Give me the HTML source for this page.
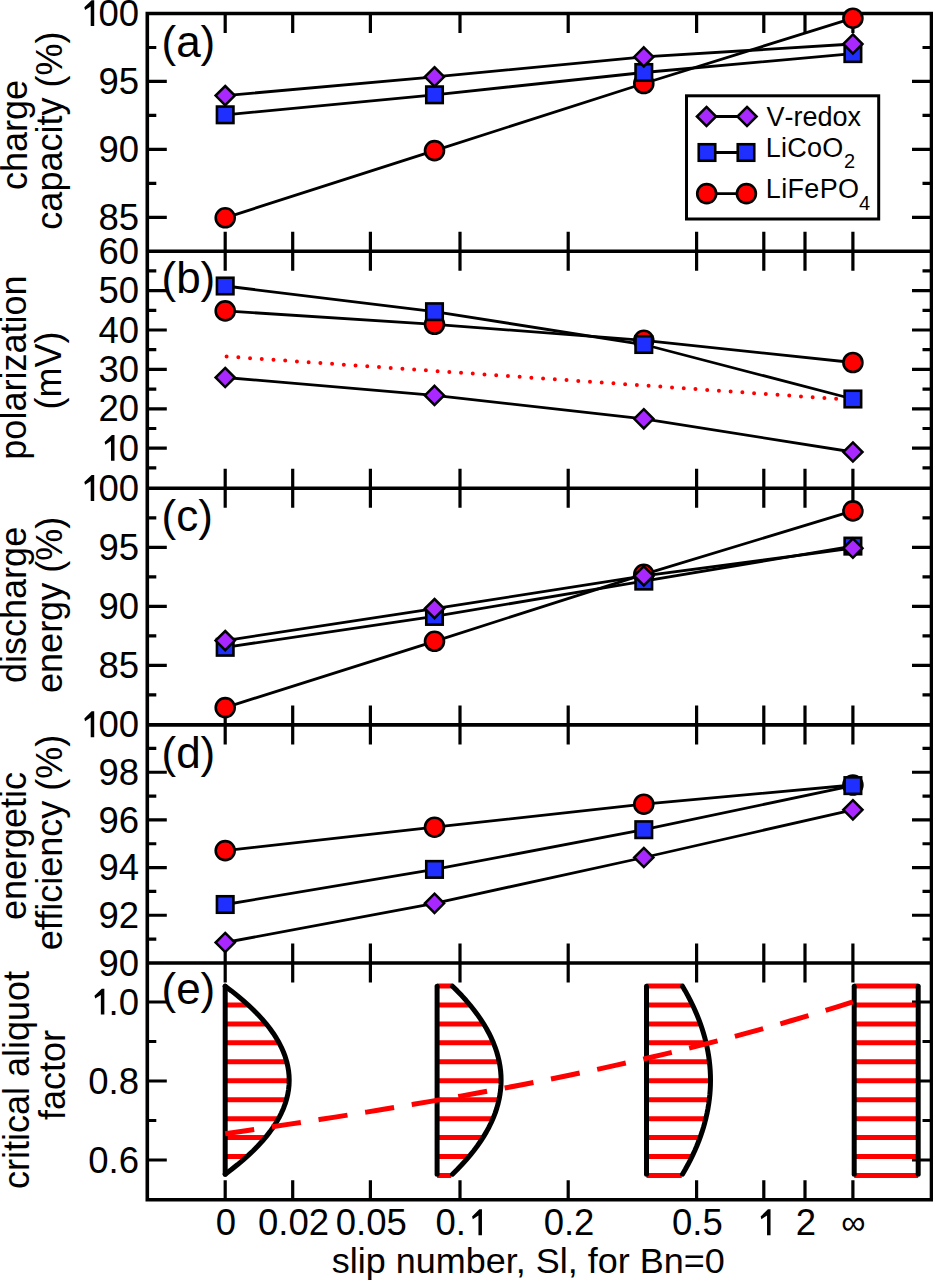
<!DOCTYPE html><html><head><meta charset="utf-8"><style>html,body{margin:0;padding:0;background:#fff;width:933px;height:1280px;overflow:hidden;position:relative}</style></head><body><div style="position:absolute;left:0;top:0;width:933px;height:1280px"><svg width="933" height="1280" viewBox="0 0 933 1280" style="position:absolute;left:0;top:0">
<rect width="933" height="1280" fill="#fff"/>
<path d="M225.2 13.5v19.5M225.2 251.2v-19.5M292.7 13.5v19.5M292.7 251.2v-19.5M370.4 13.5v19.5M370.4 251.2v-19.5M460.0 13.5v19.5M460.0 251.2v-19.5M568.2 13.5v19.5M568.2 251.2v-19.5M696.6 13.5v19.5M696.6 251.2v-19.5M763.8 13.5v19.5M763.8 251.2v-19.5M805.0 13.5v19.5M805.0 251.2v-19.5M852.9 13.5v19.5M852.9 251.2v-19.5M147.3 81.45h19.5M931.5 81.45h-19.5M147.3 149.4h19.5M931.5 149.4h-19.5M147.3 217.35h19.5M931.5 217.35h-19.5M147.3 47.48h9.0M931.5 47.48h-9.0M147.3 115.42h9.0M931.5 115.42h-9.0M147.3 183.38h9.0M931.5 183.38h-9.0M225.2 251.2v19.5M225.2 488.3v-19.5M292.7 251.2v19.5M292.7 488.3v-19.5M370.4 251.2v19.5M370.4 488.3v-19.5M460.0 251.2v19.5M460.0 488.3v-19.5M568.2 251.2v19.5M568.2 488.3v-19.5M696.6 251.2v19.5M696.6 488.3v-19.5M763.8 251.2v19.5M763.8 488.3v-19.5M805.0 251.2v19.5M805.0 488.3v-19.5M852.9 251.2v19.5M852.9 488.3v-19.5M147.3 290.6h19.5M931.5 290.6h-19.5M147.3 330.0h19.5M931.5 330.0h-19.5M147.3 369.4h19.5M931.5 369.4h-19.5M147.3 408.8h19.5M931.5 408.8h-19.5M147.3 448.2h19.5M931.5 448.2h-19.5M147.3 270.9h9.0M931.5 270.9h-9.0M147.3 310.3h9.0M931.5 310.3h-9.0M147.3 349.7h9.0M931.5 349.7h-9.0M147.3 389.1h9.0M931.5 389.1h-9.0M147.3 428.5h9.0M931.5 428.5h-9.0M147.3 467.9h9.0M931.5 467.9h-9.0M225.2 488.3v19.5M225.2 724.9v-19.5M292.7 488.3v19.5M292.7 724.9v-19.5M370.4 488.3v19.5M370.4 724.9v-19.5M460.0 488.3v19.5M460.0 724.9v-19.5M568.2 488.3v19.5M568.2 724.9v-19.5M696.6 488.3v19.5M696.6 724.9v-19.5M763.8 488.3v19.5M763.8 724.9v-19.5M805.0 488.3v19.5M805.0 724.9v-19.5M852.9 488.3v19.5M852.9 724.9v-19.5M147.3 547.3h19.5M931.5 547.3h-19.5M147.3 606.3h19.5M931.5 606.3h-19.5M147.3 665.3h19.5M931.5 665.3h-19.5M147.3 517.8h9.0M931.5 517.8h-9.0M147.3 576.8h9.0M931.5 576.8h-9.0M147.3 635.8h9.0M931.5 635.8h-9.0M147.3 694.8h9.0M931.5 694.8h-9.0M225.2 724.9v19.5M225.2 963.0v-19.5M292.7 724.9v19.5M292.7 963.0v-19.5M370.4 724.9v19.5M370.4 963.0v-19.5M460.0 724.9v19.5M460.0 963.0v-19.5M568.2 724.9v19.5M568.2 963.0v-19.5M696.6 724.9v19.5M696.6 963.0v-19.5M763.8 724.9v19.5M763.8 963.0v-19.5M805.0 724.9v19.5M805.0 963.0v-19.5M852.9 724.9v19.5M852.9 963.0v-19.5M147.3 772.26h19.5M931.5 772.26h-19.5M147.3 819.92h19.5M931.5 819.92h-19.5M147.3 867.58h19.5M931.5 867.58h-19.5M147.3 915.24h19.5M931.5 915.24h-19.5M147.3 748.43h9.0M931.5 748.43h-9.0M147.3 796.09h9.0M931.5 796.09h-9.0M147.3 843.75h9.0M931.5 843.75h-9.0M147.3 891.41h9.0M931.5 891.41h-9.0M147.3 939.07h9.0M931.5 939.07h-9.0M225.2 963.0v19.5M225.2 1199.8v-19.5M292.7 963.0v19.5M292.7 1199.8v-19.5M370.4 963.0v19.5M370.4 1199.8v-19.5M460.0 963.0v19.5M460.0 1199.8v-19.5M568.2 963.0v19.5M568.2 1199.8v-19.5M696.6 963.0v19.5M696.6 1199.8v-19.5M763.8 963.0v19.5M763.8 1199.8v-19.5M805.0 963.0v19.5M805.0 1199.8v-19.5M852.9 963.0v19.5M852.9 1199.8v-19.5M147.3 1002.0h19.5M931.5 1002.0h-19.5M147.3 1081.0h19.5M931.5 1081.0h-19.5M147.3 1160.0h19.5M931.5 1160.0h-19.5M147.3 1041.5h9.0M931.5 1041.5h-9.0M147.3 1120.5h9.0M931.5 1120.5h-9.0" stroke="#000" stroke-width="3.2" fill="none"/>
<path d="M147.3 13.5H931.5V1199.8H147.3ZM147.3 251.2H931.5M147.3 488.3H931.5M147.3 724.9H931.5M147.3 963.0H931.5" stroke="#000" stroke-width="3.6" fill="none" stroke-linecap="square"/>
<g font-family='"Liberation Sans", sans-serif' font-size="36.5" fill="#000" style="font-kerning:none"><path transform="translate(78.12 26.10) scale(36.5)" d="M0.441 0H0.345V-0.54L0.19 -0.44L0.17 -0.515L0.37 -0.709H0.441Z"/><text x="98.41" y="26.10">00</text><text x="98.41" y="94.05">95</text><text x="98.41" y="162.00">90</text><text x="98.41" y="229.95">85</text><text x="98.41" y="263.80">60</text><text x="98.41" y="303.20">50</text><text x="98.41" y="342.60">40</text><text x="98.41" y="382.00">30</text><text x="98.41" y="421.40">20</text><path transform="translate(98.41 460.80) scale(36.5)" d="M0.441 0H0.345V-0.54L0.19 -0.44L0.17 -0.515L0.37 -0.709H0.441Z"/><text x="118.71" y="460.80">0</text><path transform="translate(78.12 500.90) scale(36.5)" d="M0.441 0H0.345V-0.54L0.19 -0.44L0.17 -0.515L0.37 -0.709H0.441Z"/><text x="98.41" y="500.90">00</text><text x="98.41" y="559.90">95</text><text x="98.41" y="618.90">90</text><text x="98.41" y="677.90">85</text><path transform="translate(78.12 737.20) scale(36.5)" d="M0.441 0H0.345V-0.54L0.19 -0.44L0.17 -0.515L0.37 -0.709H0.441Z"/><text x="98.41" y="737.20">00</text><text x="98.41" y="784.86">98</text><text x="98.41" y="832.52">96</text><text x="98.41" y="880.18">94</text><text x="98.41" y="927.84">92</text><text x="98.41" y="975.50">90</text><path transform="translate(88.26 1014.60) scale(36.5)" d="M0.441 0H0.345V-0.54L0.19 -0.44L0.17 -0.515L0.37 -0.709H0.441Z"/><text x="108.56" y="1014.60">.0</text><text x="88.26" y="1093.60">0.8</text><text x="88.26" y="1172.60">0.6</text></g>
<g font-family='"Liberation Sans", sans-serif' font-size="36.5" fill="#000" style="font-kerning:none"><text x="215.85" y="1235.20">0</text><text x="257.99" y="1235.20">0.02</text><text x="335.69" y="1235.20">0.05</text><text x="435.43" y="1235.20">0.</text><path transform="translate(465.87 1235.20) scale(36.5)" d="M0.441 0H0.345V-0.54L0.19 -0.44L0.17 -0.515L0.37 -0.709H0.441Z"/><text x="543.63" y="1235.20">0.2</text><text x="672.03" y="1235.20">0.5</text><path transform="translate(754.45 1235.20) scale(36.5)" d="M0.441 0H0.345V-0.54L0.19 -0.44L0.17 -0.515L0.37 -0.709H0.441Z"/><text x="795.65" y="1235.20">2</text></g>
<text x="853.3" y="1233.5" font-family='"Liberation Sans", sans-serif' font-size="34" text-anchor="middle">&#8734;</text>
<text transform="translate(528.3 1273) scale(1 0.95)" font-family='"Liberation Sans", sans-serif' font-size="36" text-anchor="middle">slip number, Sl, for Bn=0</text>
<g font-family='"Liberation Sans", sans-serif' font-size="36" text-anchor="middle" fill="#000"><text transform="translate(26.8 134.9) rotate(-90)">charge</text><text transform="translate(62.3 130.6) rotate(-90)">capacity (%)</text><text transform="translate(25.6 367.6) rotate(-90)">polarization</text><text transform="translate(61.2 370.4) rotate(-90)">(mV)</text><text transform="translate(26.2 604.9) rotate(-90)">discharge</text><text transform="translate(62.4 604.9) rotate(-90)">energy (%)</text><text transform="translate(26.0 846.0) rotate(-90)">energetic</text><text transform="translate(61.6 842.5) rotate(-90)">efficiency (%)</text><text transform="translate(29.1 1080.0) rotate(-90)">critical aliquot</text><text transform="translate(65.1 1075.1) rotate(-90)">factor</text></g>
<g font-family='"Liberation Sans", sans-serif' font-size="44" fill="#000"><text x="161.5" y="56.5">(a)</text><text x="161.5" y="292.5">(b)</text><text x="161.5" y="530.5">(c)</text><text x="161.5" y="768">(d)</text><text x="161.5" y="1004">(e)</text></g>
<polyline points="225.2,217.8 434.5,150.6 643.8,83.5 852.9,18.2" stroke="#000" stroke-width="2.8" fill="none"/>
<circle cx="225.2" cy="217.8" r="9.5" fill="#ff0000" stroke="#000" stroke-width="2.6"/><circle cx="434.5" cy="150.6" r="9.5" fill="#ff0000" stroke="#000" stroke-width="2.6"/><circle cx="643.8" cy="83.5" r="9.5" fill="#ff0000" stroke="#000" stroke-width="2.6"/><circle cx="852.9" cy="18.2" r="9.5" fill="#ff0000" stroke="#000" stroke-width="2.6"/>
<polyline points="225.2,114.8 434.5,94.8 643.8,72.5 852.9,53.6" stroke="#000" stroke-width="2.8" fill="none"/>
<rect x="216.95" y="106.55" width="16.5" height="16.5" fill="#1f2fff" stroke="#000" stroke-width="2.6"/><rect x="426.25" y="86.55" width="16.5" height="16.5" fill="#1f2fff" stroke="#000" stroke-width="2.6"/><rect x="635.55" y="64.25" width="16.5" height="16.5" fill="#1f2fff" stroke="#000" stroke-width="2.6"/><rect x="844.65" y="45.35" width="16.5" height="16.5" fill="#1f2fff" stroke="#000" stroke-width="2.6"/>
<polyline points="225.2,95.6 434.5,76.8 643.8,56.9 852.9,44.0" stroke="#000" stroke-width="2.8" fill="none"/>
<path d="M225.2 86.00L234.80 95.6L225.2 105.20L215.60 95.6Z" fill="#a828ff" stroke="#000" stroke-width="2.5" stroke-linejoin="miter"/><path d="M434.5 67.20L444.10 76.8L434.5 86.40L424.90 76.8Z" fill="#a828ff" stroke="#000" stroke-width="2.5" stroke-linejoin="miter"/><path d="M643.8 47.30L653.40 56.9L643.8 66.50L634.20 56.9Z" fill="#a828ff" stroke="#000" stroke-width="2.5" stroke-linejoin="miter"/><path d="M852.9 34.40L862.50 44.0L852.9 53.60L843.30 44.0Z" fill="#a828ff" stroke="#000" stroke-width="2.5" stroke-linejoin="miter"/>
<path d="M226.6 356.5L852.9 400" stroke="#ff0000" stroke-width="4" stroke-linecap="round" stroke-dasharray="0 11.75" fill="none"/>
<polyline points="225.2,310.9 434.5,324.3 643.8,340.3 852.9,362.5" stroke="#000" stroke-width="2.8" fill="none"/>
<circle cx="225.2" cy="310.9" r="9.5" fill="#ff0000" stroke="#000" stroke-width="2.6"/><circle cx="434.5" cy="324.3" r="9.5" fill="#ff0000" stroke="#000" stroke-width="2.6"/><circle cx="643.8" cy="340.3" r="9.5" fill="#ff0000" stroke="#000" stroke-width="2.6"/><circle cx="852.9" cy="362.5" r="9.5" fill="#ff0000" stroke="#000" stroke-width="2.6"/>
<polyline points="225.2,286.0 434.5,311.7 643.8,344.5 852.9,399.0" stroke="#000" stroke-width="2.8" fill="none"/>
<rect x="216.95" y="277.75" width="16.5" height="16.5" fill="#1f2fff" stroke="#000" stroke-width="2.6"/><rect x="426.25" y="303.45" width="16.5" height="16.5" fill="#1f2fff" stroke="#000" stroke-width="2.6"/><rect x="635.55" y="336.25" width="16.5" height="16.5" fill="#1f2fff" stroke="#000" stroke-width="2.6"/><rect x="844.65" y="390.75" width="16.5" height="16.5" fill="#1f2fff" stroke="#000" stroke-width="2.6"/>
<polyline points="225.2,377.5 434.5,395.4 643.8,418.8 852.9,452.0" stroke="#000" stroke-width="2.8" fill="none"/>
<path d="M225.2 367.90L234.80 377.5L225.2 387.10L215.60 377.5Z" fill="#a828ff" stroke="#000" stroke-width="2.5" stroke-linejoin="miter"/><path d="M434.5 385.80L444.10 395.4L434.5 405.00L424.90 395.4Z" fill="#a828ff" stroke="#000" stroke-width="2.5" stroke-linejoin="miter"/><path d="M643.8 409.20L653.40 418.8L643.8 428.40L634.20 418.8Z" fill="#a828ff" stroke="#000" stroke-width="2.5" stroke-linejoin="miter"/><path d="M852.9 442.40L862.50 452.0L852.9 461.60L843.30 452.0Z" fill="#a828ff" stroke="#000" stroke-width="2.5" stroke-linejoin="miter"/>
<polyline points="225.2,707.6 434.5,641.3 643.8,574.3 852.9,510.9" stroke="#000" stroke-width="2.8" fill="none"/>
<circle cx="225.2" cy="707.6" r="9.5" fill="#ff0000" stroke="#000" stroke-width="2.6"/><circle cx="434.5" cy="641.3" r="9.5" fill="#ff0000" stroke="#000" stroke-width="2.6"/><circle cx="643.8" cy="574.3" r="9.5" fill="#ff0000" stroke="#000" stroke-width="2.6"/><circle cx="852.9" cy="510.9" r="9.5" fill="#ff0000" stroke="#000" stroke-width="2.6"/>
<polyline points="225.2,647.3 434.5,616.4 643.8,581.1 852.9,546.1" stroke="#000" stroke-width="2.8" fill="none"/>
<rect x="216.95" y="639.05" width="16.5" height="16.5" fill="#1f2fff" stroke="#000" stroke-width="2.6"/><rect x="426.25" y="608.15" width="16.5" height="16.5" fill="#1f2fff" stroke="#000" stroke-width="2.6"/><rect x="635.55" y="572.85" width="16.5" height="16.5" fill="#1f2fff" stroke="#000" stroke-width="2.6"/><rect x="844.65" y="537.85" width="16.5" height="16.5" fill="#1f2fff" stroke="#000" stroke-width="2.6"/>
<polyline points="225.2,640.6 434.5,608.6 643.8,575.9 852.9,548.2" stroke="#000" stroke-width="2.8" fill="none"/>
<path d="M225.2 631.00L234.80 640.6L225.2 650.20L215.60 640.6Z" fill="#a828ff" stroke="#000" stroke-width="2.5" stroke-linejoin="miter"/><path d="M434.5 599.00L444.10 608.6L434.5 618.20L424.90 608.6Z" fill="#a828ff" stroke="#000" stroke-width="2.5" stroke-linejoin="miter"/><path d="M643.8 566.30L653.40 575.9L643.8 585.50L634.20 575.9Z" fill="#a828ff" stroke="#000" stroke-width="2.5" stroke-linejoin="miter"/><path d="M852.9 538.60L862.50 548.2L852.9 557.80L843.30 548.2Z" fill="#a828ff" stroke="#000" stroke-width="2.5" stroke-linejoin="miter"/>
<polyline points="225.2,850.6 434.5,827.2 643.8,804.2 852.9,785.0" stroke="#000" stroke-width="2.8" fill="none"/>
<circle cx="225.2" cy="850.6" r="9.5" fill="#ff0000" stroke="#000" stroke-width="2.6"/><circle cx="434.5" cy="827.2" r="9.5" fill="#ff0000" stroke="#000" stroke-width="2.6"/><circle cx="643.8" cy="804.2" r="9.5" fill="#ff0000" stroke="#000" stroke-width="2.6"/><circle cx="852.9" cy="785.0" r="9.5" fill="#ff0000" stroke="#000" stroke-width="2.6"/>
<polyline points="225.2,904.5 434.5,869.4 643.8,829.7 852.9,785.6" stroke="#000" stroke-width="2.8" fill="none"/>
<rect x="216.95" y="896.25" width="16.5" height="16.5" fill="#1f2fff" stroke="#000" stroke-width="2.6"/><rect x="426.25" y="861.15" width="16.5" height="16.5" fill="#1f2fff" stroke="#000" stroke-width="2.6"/><rect x="635.55" y="821.45" width="16.5" height="16.5" fill="#1f2fff" stroke="#000" stroke-width="2.6"/><rect x="844.65" y="777.35" width="16.5" height="16.5" fill="#1f2fff" stroke="#000" stroke-width="2.6"/>
<polyline points="225.2,942.5 434.5,903.3 643.8,857.5 852.9,809.8" stroke="#000" stroke-width="2.8" fill="none"/>
<path d="M225.2 932.90L234.80 942.5L225.2 952.10L215.60 942.5Z" fill="#a828ff" stroke="#000" stroke-width="2.5" stroke-linejoin="miter"/><path d="M434.5 893.70L444.10 903.3L434.5 912.90L424.90 903.3Z" fill="#a828ff" stroke="#000" stroke-width="2.5" stroke-linejoin="miter"/><path d="M643.8 847.90L653.40 857.5L643.8 867.10L634.20 857.5Z" fill="#a828ff" stroke="#000" stroke-width="2.5" stroke-linejoin="miter"/><path d="M852.9 800.20L862.50 809.8L852.9 819.40L843.30 809.8Z" fill="#a828ff" stroke="#000" stroke-width="2.5" stroke-linejoin="miter"/>
<rect x="686.5" y="95.8" width="192.2" height="123.2" fill="#fff" stroke="#000" stroke-width="3"/>
<path d="M706.5 116.5H747M707 152.5H746M706.7 193.6H746.4" stroke="#000" stroke-width="2.8"/>
<path d="M706.5 106.90L716.10 116.5L706.5 126.10L696.90 116.5Z" fill="#a828ff" stroke="#000" stroke-width="2.5" stroke-linejoin="miter"/><path d="M747 106.90L756.60 116.5L747 126.10L737.40 116.5Z" fill="#a828ff" stroke="#000" stroke-width="2.5" stroke-linejoin="miter"/><rect x="698.75" y="144.25" width="16.5" height="16.5" fill="#1f2fff" stroke="#000" stroke-width="2.6"/><rect x="737.75" y="144.25" width="16.5" height="16.5" fill="#1f2fff" stroke="#000" stroke-width="2.6"/><circle cx="706.7" cy="193.6" r="9.5" fill="#ff0000" stroke="#000" stroke-width="2.6"/><circle cx="746.4" cy="193.6" r="9.5" fill="#ff0000" stroke="#000" stroke-width="2.6"/>
<g font-family='"Liberation Sans", sans-serif' font-size="27" fill="#000"><text x="766.5" y="125.9" style="font-kerning:none">V-redox</text><text x="765.8" y="157.4" letter-spacing="0.25">LiCoO<tspan font-size="20" dx="0.3" dy="10.9">2</tspan></text><text x="765.8" y="197.9" letter-spacing="0.35">LiFePO<tspan font-size="20" dx="-0.5" dy="11.6">4</tspan></text></g>
<path d="M225.2 1004.95H248.19M225.2 1023.90H266.24M225.2 1042.85H279.10M225.2 1061.80H286.75M225.2 1080.75H289.20M225.2 1099.70H286.45M225.2 1118.65H278.49M225.2 1137.60H265.34M225.2 1156.55H246.98" stroke="#ff0000" stroke-width="5" fill="none"/>
<path d="M437.1 986.00H452.29M437.1 1004.95H469.95M437.1 1023.90H483.67M437.1 1042.85H493.43M437.1 1061.80H499.24M437.1 1080.75H501.10M437.1 1099.70H499.01M437.1 1118.65H492.97M437.1 1137.60H482.98M437.1 1156.55H469.04M437.1 1175.50H451.15" stroke="#ff0000" stroke-width="5" fill="none"/>
<path d="M646.5 986.00H682.38M646.5 1004.95H692.56M646.5 1023.90H700.46M646.5 1042.85H706.08M646.5 1061.80H709.43M646.5 1080.75H710.50M646.5 1099.70H709.30M646.5 1118.65H705.82M646.5 1137.60H700.06M646.5 1156.55H692.03M646.5 1175.50H681.72" stroke="#ff0000" stroke-width="5" fill="none"/>
<path d="M854.2 986.00H918.20M854.2 1004.95H918.20M854.2 1023.90H918.20M854.2 1042.85H918.20M854.2 1061.80H918.20M854.2 1080.75H918.20M854.2 1099.70H918.20M854.2 1118.65H918.20M854.2 1137.60H918.20M854.2 1156.55H918.20M854.2 1175.50H918.20" stroke="#ff0000" stroke-width="5" fill="none"/>
<path d="M225.2 986.2V1174.2" stroke="#000" stroke-width="5" stroke-linecap="round" fill="none"/>
<polyline points="225.20,986.20 231.44,990.90 237.36,995.60 242.96,1000.30 248.24,1005.00 253.20,1009.70 257.84,1014.40 262.16,1019.10 266.16,1023.80 269.84,1028.50 273.20,1033.20 276.24,1037.90 278.96,1042.60 281.36,1047.30 283.44,1052.00 285.20,1056.70 286.64,1061.40 287.76,1066.10 288.56,1070.80 289.04,1075.50 289.20,1080.20 289.04,1084.90 288.56,1089.60 287.76,1094.30 286.64,1099.00 285.20,1103.70 283.44,1108.40 281.36,1113.10 278.96,1117.80 276.24,1122.50 273.20,1127.20 269.84,1131.90 266.16,1136.60 262.16,1141.30 257.84,1146.00 253.20,1150.70 248.24,1155.40 242.96,1160.10 237.36,1164.80 231.44,1169.50 225.20,1174.20" stroke="#000" stroke-width="5" stroke-linecap="round" stroke-linejoin="round" fill="none"/>
<path d="M437.1 986.2V1174.2" stroke="#000" stroke-width="5" stroke-linecap="round" fill="none"/>
<polyline points="452.50,986.20 457.24,990.90 461.73,995.60 465.99,1000.30 470.00,1005.00 473.76,1009.70 477.29,1014.40 480.57,1019.10 483.60,1023.80 486.40,1028.50 488.95,1033.20 491.26,1037.90 493.32,1042.60 495.15,1047.30 496.73,1052.00 498.06,1056.70 499.16,1061.40 500.01,1066.10 500.61,1070.80 500.98,1075.50 501.10,1080.20 500.98,1084.90 500.61,1089.60 500.01,1094.30 499.16,1099.00 498.06,1103.70 496.73,1108.40 495.15,1113.10 493.32,1117.80 491.26,1122.50 488.95,1127.20 486.40,1131.90 483.60,1136.60 480.57,1141.30 477.29,1146.00 473.76,1150.70 470.00,1155.40 465.99,1160.10 461.73,1164.80 457.24,1169.50 452.50,1174.20" stroke="#000" stroke-width="5" stroke-linecap="round" stroke-linejoin="round" fill="none"/>
<path d="M646.5 986.2V1174.2" stroke="#000" stroke-width="5" stroke-linecap="round" fill="none"/>
<polyline points="682.50,986.20 685.23,990.90 687.82,995.60 690.27,1000.30 692.58,1005.00 694.75,1009.70 696.78,1014.40 698.67,1019.10 700.42,1023.80 702.03,1028.50 703.50,1033.20 704.83,1037.90 706.02,1042.60 707.07,1047.30 707.98,1052.00 708.75,1056.70 709.38,1061.40 709.87,1066.10 710.22,1070.80 710.43,1075.50 710.50,1080.20 710.43,1084.90 710.22,1089.60 709.87,1094.30 709.38,1099.00 708.75,1103.70 707.98,1108.40 707.07,1113.10 706.02,1117.80 704.83,1122.50 703.50,1127.20 702.03,1131.90 700.42,1136.60 698.67,1141.30 696.78,1146.00 694.75,1150.70 692.58,1155.40 690.27,1160.10 687.82,1164.80 685.23,1169.50 682.50,1174.20" stroke="#000" stroke-width="5" stroke-linecap="round" stroke-linejoin="round" fill="none"/>
<path d="M854.2 986.2V1174.2" stroke="#000" stroke-width="5" stroke-linecap="round" fill="none"/>
<path d="M918.2 986.2V1174.2" stroke="#000" stroke-width="5" stroke-linecap="round" fill="none"/>
<polyline points="225.20,1133.81 240.89,1131.48 256.58,1129.13 272.28,1126.77 287.97,1124.39 303.66,1121.99 319.36,1119.57 335.05,1117.11 350.74,1114.63 366.43,1112.11 382.12,1109.55 397.82,1106.96 413.51,1104.32 429.20,1101.64 444.89,1098.91 460.59,1096.13 476.28,1093.29 491.97,1090.40 507.67,1087.45 523.36,1084.44 539.05,1081.36 554.74,1078.22 570.43,1075.00 586.13,1071.72 601.82,1068.35 617.51,1064.91 633.20,1061.38 648.90,1057.77 664.59,1054.07 680.28,1050.28 695.98,1046.40 711.67,1042.42 727.36,1038.35 743.05,1034.17 758.75,1029.88 774.44,1025.49 790.13,1020.99 805.82,1016.38 821.52,1011.65 837.21,1006.80 852.90,1001.83" stroke="#ff0000" stroke-width="5" stroke-dasharray="29.3 17.9" fill="none"/>
</svg></div></body></html>
